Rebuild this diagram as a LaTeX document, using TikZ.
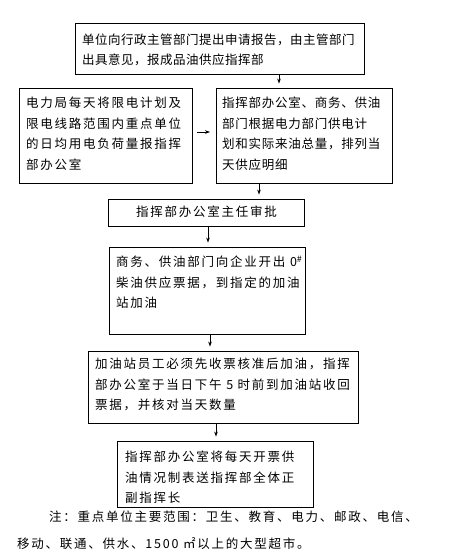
\documentclass[tikz,border=0pt]{standalone}
\usepackage{fontspec}
\newfontfamily\cjk[LetterSpace=14]{Noto Sans CJK SC}
\newfontfamily\cjka[LetterSpace=4]{Noto Sans CJK SC}
\newfontfamily\cjkb[LetterSpace=6]{Noto Sans CJK SC}
\usetikzlibrary{arrows.meta}
\tikzset{
  box/.style={draw, line width=0.9pt, inner sep=0pt},
  txt/.style={inner sep=0pt, align=left, anchor=north west, font=\cjk\fontsize{12.5}{20.5}\selectfont},
  arr/.style={line width=0.7pt, -{Stealth[length=5pt,width=3.6pt]}, shorten >=4pt}
}
\begin{document}
\begin{tikzpicture}[x=1pt,y=-1pt]
\useasboundingbox (0,0) rectangle (453,559);
% boxes
\node[box, minimum width=289pt, minimum height=51pt] (b1) at (219.5,48.5) {};
\node[box, minimum width=173pt, minimum height=95pt] (b2) at (105.5,135.5) {};
\node[box, minimum width=176pt, minimum height=95pt] (b3) at (304,135.5) {};
\node[box, minimum width=196pt, minimum height=27pt] (b4) at (206,212.5) {};
\node[box, minimum width=196pt, minimum height=87pt] (b5) at (207,290.5) {};
\node[box, minimum width=270pt, minimum height=72pt] (b6) at (223,387) {};
\node[box, minimum width=196pt, minimum height=66pt] (b7) at (215,474) {};
% texts
\node[txt, font=\cjka\fontsize{12.5}{19.5}\selectfont] (t1) at (82,34) {单位向行政主管部门提出申请报告，由主管部门\\出具意见，报成品油供应指挥部};
\node[txt] (t2) at (26,97) {电力局每天将限电计划及\\限电线路范围内重点单位\\的日均用电负荷量报指挥\\部办公室};
\node[txt, font=\cjkb\fontsize{12.5}{20.5}\selectfont] (t3) at (222,97) {指挥部办公室、商务、供油\\部门根据电力部门供电计\\划和实际来油总量，排列当\\天供应明细};
\node[txt] (t4) at (136,206) {指挥部办公室主任审批};
\node[txt] (t5) at (116,256) {商务、供油部门向企业开出 0\textsuperscript{\#}\\柴油供应票据，到指定的加油\\站加油};
\node[txt] (t6) at (95,358) {加油站员工必须先收票核准后加油，指挥\\部办公室于当日下午 5 时前到加油站收回\\票据，并核对当天数量};
\node[txt] (t7) at (125,451) {指挥部办公室将每天开票供\\油情况制表送指挥部全体正\\副指挥长};
\node[txt, font=\cjk\fontsize{12.5}{27}\selectfont] (note) at (17,511) {\hspace*{32pt}注：重点单位主要范围：卫生、教育、电力、邮政、电信、\\移动、联通、供水、1500 ㎡以上的大型超市。};
% arrows
\draw[arr] (b1.south -| 279,0) -- (b3.north -| 279,0);
\coordinate (a2s) at (197,132);
\coordinate (a2e) at (214,132);
\draw[arr] (a2s) -- (a2e);
\draw[arr] (b3.south -| 259,0) -- (b4.north -| 259,0);
\draw[arr] (b4.south -| 208,0) -- (b5.north -| 208,0);
\draw[arr] (b5.south -| 210,0) -- (b6.north -| 210,0);
\draw[arr] (b6.south -| 216,0) -- (b7.north -| 216,0);
\end{tikzpicture}
\end{document}
